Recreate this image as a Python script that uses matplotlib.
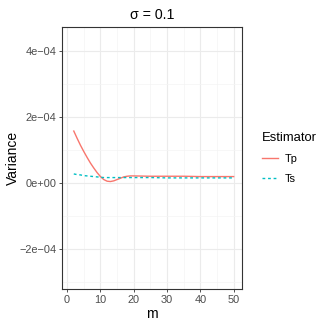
import numpy as np
import matplotlib
matplotlib.use('Agg')
from matplotlib import pyplot as plt

plt.rcParams['font.family'] = ['Liberation Sans', 'DejaVu Sans']

m = [2, 3, 4, 5, 6, 7, 8, 9, 10, 11, 12, 13, 14, 15, 16, 17, 18, 19, 20, 25, 30, 35, 40, 45, 50]
tp = [1.58, 1.36, 1.15, 0.96, 0.78, 0.61, 0.46, 0.32, 0.20, 0.11, 0.06, 0.05, 0.07, 0.11, 0.15, 0.19, 0.21, 0.22, 0.22, 0.21, 0.21, 0.21, 0.20, 0.20, 0.20]
ts = [0.28, 0.26, 0.25, 0.23, 0.22, 0.21, 0.20, 0.19, 0.18, 0.17, 0.17, 0.17, 0.17, 0.17, 0.17, 0.17, 0.17, 0.17, 0.17, 0.17, 0.16, 0.16, 0.16, 0.16, 0.16]
scale = 1e-4

yticks = [-2e-4, 0, 2e-4, 4e-4]
ylabels = ['\u22122e\u221204', '0e+00', '2e\u221204', '4e\u221204']
xticks = [0, 10, 20, 30, 40, 50]

fig = plt.figure(figsize=(3.27, 3.27), dpi=100)
ax = fig.add_axes([0.19, 0.116, 0.55, 0.801])

ax.plot(m, np.array(tp) * scale, color='#F8766D', lw=1.0, label='Tp')
ax.plot(m, np.array(ts) * scale, color='#00BFC4', lw=1.0, ls=(0, (2, 2)), label='Ts')

ax.set_xlim(-1.5, 52.5)
ax.set_ylim(-3.21e-4, 4.73e-4)
ax.set_xticks(xticks)
ax.set_xticks([5, 15, 25, 35, 45], minor=True)
ax.set_yticks(yticks)
ax.set_yticklabels(ylabels)
ax.set_yticks([-3e-4, -1e-4, 1e-4, 3e-4], minor=True)
ax.grid(True, which='major', color='#EBEBEB', lw=0.8)
ax.grid(True, which='minor', color='#F4F4F4', lw=0.5)
ax.set_axisbelow(True)
ax.tick_params(which='major', length=2.5, width=0.6, color='#333333', labelsize=7.9, labelcolor='#4D4D4D', pad=1.5)
ax.tick_params(which='minor', length=0)
for s in ax.spines.values():
    s.set_color('#333333')
    s.set_linewidth(0.8)

ax.set_xlabel('m', fontsize=10, labelpad=2)
ax.set_ylabel('Variance', fontsize=10, labelpad=0)
ax.set_title('\u03c3 = 0.1', fontsize=10.2, pad=6)

leg = ax.legend(loc='center left', bbox_to_anchor=(1.055, 0.5), frameon=False,
                title='Estimator', fontsize=7.9, title_fontsize=9.4,
                handlelength=1.5, handletextpad=0.6, labelspacing=0.9)
leg._legend_box.align = 'left'

fig.savefig('out.png', dpi=100)
